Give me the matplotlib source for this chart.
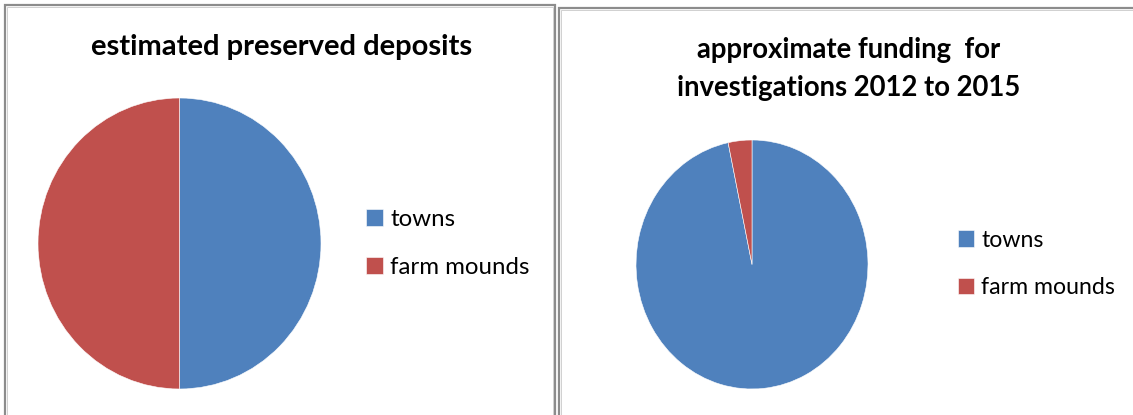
import matplotlib
matplotlib.use("Agg")
import matplotlib.pyplot as plt
from matplotlib.patches import Rectangle

categories = ["towns", "farm mounds"]
deposits = [50, 50]
funding = [96.7, 3.3]
title_left = "estimated preserved deposits"
title_right = "approximate funding  for\ninvestigations 2012 to 2015"
colors = ["#4F81BD", "#C0504D"]

W, H = 1133, 415
fig = plt.figure(figsize=(W / 100, H / 100), dpi=100)
plt.rcParams['font.family'] = ['Lato', 'DejaVu Sans']


def px_axes(x0, y0, x1, y1):
    # pixel box (top-left origin) -> figure axes
    return fig.add_axes([x0 / W, 1 - y1 / H, (x1 - x0) / W, (y1 - y0) / H])


# panel borders
for (x0, y0, x1, y1) in [(5, 5, 555, 430), (559, 8, 1150, 430)]:
    fig.patches.append(Rectangle((x0 / W, 1 - y1 / H), (x1 - x0) / W, (y1 - y0) / H,
                                 transform=fig.transFigure, fill=False,
                                 edgecolor="#8c8c8c", linewidth=1.6))
    fig.patches.append(Rectangle(((x0 + 2) / W, 1 - (y1 - 2) / H), (x1 - x0 - 4) / W,
                                 (y1 - y0 - 4) / H, transform=fig.transFigure, fill=False,
                                 edgecolor="#d0d0d0", linewidth=0.7))


def draw_pie(box, values, legend_xy, fs):
    ax = px_axes(*box)
    wedges, _ = ax.pie(values, colors=colors, startangle=90, counterclock=False,
                       wedgeprops=dict(edgecolor="white", linewidth=0.4))
    ax.set_aspect('auto')
    ax.set_xlim(-1, 1)
    ax.set_ylim(-1, 1)
    lx, ly = legend_xy
    fig.legend(wedges, categories, loc="center left",
               bbox_to_anchor=(lx / W, 1 - ly / H), bbox_transform=fig.transFigure,
               frameon=False, fontsize=fs, handlelength=0.7, handleheight=0.7,
               handletextpad=0.3, labelspacing=1.15, borderpad=0, borderaxespad=0)
    return ax


draw_pie((38, 98, 321, 389), deposits, (366, 243.5), 17.3)
draw_pie((636, 140, 868, 389), funding, (958, 264), 16.7)

fig.text(282 / W, 1 - 47 / H, title_left, ha="center", va="center",
         fontsize=21, fontweight="bold", color="black")
fig.text(849 / W, 1 - 69 / H, title_right, ha="center", va="center",
         fontsize=19.8, fontweight="bold", color="black", linespacing=1.55)

fig.savefig("out.png", dpi=100)
